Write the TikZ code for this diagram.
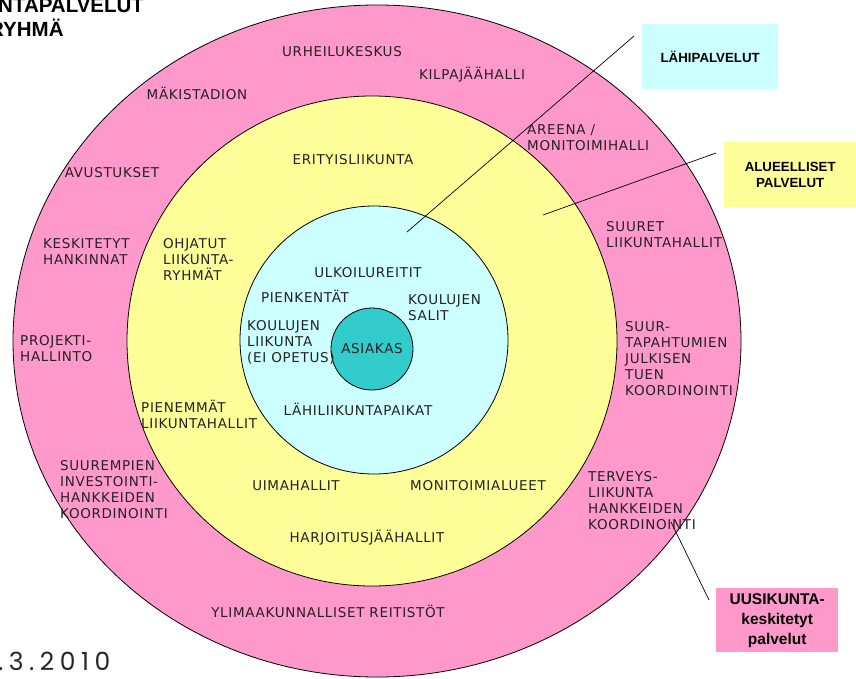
\documentclass[tikz,border=0pt]{standalone}
\usepackage{fontspec}
\setmainfont{DejaVu Sans}
\newfontfamily\labfont[LetterSpace=5]{DejaVu Sans}
\newfontfamily\boxfont{Liberation Sans}
\newfontfamily\datefont[LetterSpace=22]{Poppins}
\usetikzlibrary{calc}
\definecolor{pinkc}{HTML}{FF99CC}
\definecolor{yelc}{HTML}{FFFF99}
\definecolor{cyanc}{HTML}{CCFFFF}
\definecolor{asic}{HTML}{33CCCC}
\definecolor{labc}{HTML}{222222}
\begin{document}
\begin{tikzpicture}[x=1pt,y=-1pt,
  lab/.style={inner sep=0pt, font=\labfont\fontsize{13.5}{16}\selectfont, text=labc},
  labl/.style={lab, align=left, anchor=west},
  ring/.style={draw=black, line width=0.8pt},
  infobox/.style={inner sep=0pt, align=center, anchor=north west},
  pointer/.style={draw=black, line width=0.7pt}]
\useasboundingbox (0,0) rectangle (856,679);
% rings
\path[ring, fill=pinkc] (377,341) ellipse [x radius=364pt, y radius=336pt];
\path[ring, fill=yelc] (372,341) circle [radius=245pt];
\path[ring, fill=cyanc] (374,340) circle [radius=134pt];
\node[ring, fill=asic, circle, minimum size=82pt, inner sep=0pt, font=\labfont\fontsize{13.5}{16}\selectfont, text=labc] (asiakas) at (372,349) {ASIAKAS};
% title and date
\node[inner sep=0pt, anchor=north west, font=\boxfont\bfseries\fontsize{20.5}{24}\selectfont, align=left] (title) at (-2,-2) {NTAPALVELUT\\\hspace*{-9pt}RYHMÄ};
\node[inner sep=0pt, anchor=base west, font=\datefont\fontsize{25}{28}\selectfont, text=black!85] (date) at (-2,670) {.3.2010};
% pink ring labels
\node[lab] (l1) at (342,52) {URHEILUKESKUS};
\node[lab] (l2) at (472,75) {KILPAJÄÄHALLI};
\node[lab] (l3) at (197,93) {MÄKISTADION};
\node[labl] (l4) at (527,138) {AREENA /\\MONITOIMIHALLI};
\node[lab] (l5) at (112,173) {AVUSTUKSET};
\node[labl] (l6) at (43,251) {KESKITETYT\\HANKINNAT};
\node[labl] (l7) at (20,349) {PROJEKTI-\\HALLINTO};
\node[labl] (l8) at (60,490) {SUUREMPIEN\\INVESTOINTI-\\HANKKEIDEN\\KOORDINOINTI};
\node[lab] (l9) at (328,611) {YLIMAAKUNNALLISET REITISTÖT};
\node[labl] (l10) at (588,501) {TERVEYS-\\LIIKUNTA\\HANKKEIDEN\\KOORDINOINTI};
\node[labl] (l11) at (625,359) {SUUR-\\TAPAHTUMIEN\\JULKISEN\\TUEN\\KOORDINOINTI};
\node[labl] (l12) at (606,235) {SUURET\\LIIKUNTAHALLIT};
% yellow ring labels
\node[lab] (y1) at (353,160) {ERITYISLIIKUNTA};
\node[labl] (y2) at (163,259) {OHJATUT\\LIIKUNTA-\\RYHMÄT};
\node[labl] (y3) at (141,414) {PIENEMMÄT\\LIIKUNTAHALLIT};
\node[lab] (y4) at (296,486) {UIMAHALLIT};
\node[lab] (y5) at (478,486) {MONITOIMIALUEET};
\node[lab] (y6) at (367,538) {HARJOITUSJÄÄHALLIT};
% cyan labels
\node[lab] (c1) at (368,273) {ULKOILUREITIT};
\node[lab] (c2) at (305,296) {PIENKENTÄT};
\node[labl] (c3) at (408,308) {KOULUJEN\\SALIT};
\node[labl] (c4) at (247,342) {KOULUJEN\\LIIKUNTA\\(EI OPETUS)};
\node[lab] (c5) at (358,409) {LÄHILIIKUNTAPAIKAT};
% info boxes
\node[infobox, fill=cyanc, minimum width=136pt, minimum height=65pt, font=\boxfont\bfseries\fontsize{13.3}{16}\selectfont] (lahi) at (642,24) {LÄHIPALVELUT};
\node[infobox, fill=yelc, minimum width=132pt, minimum height=65pt, font=\boxfont\bfseries\fontsize{13.3}{16}\selectfont] (alue) at (724,142) {ALUEELLISET\\PALVELUT};
\node[infobox, fill=pinkc, minimum width=122pt, minimum height=64pt, font=\boxfont\bfseries\fontsize{15.5}{20}\selectfont] (uusi) at (716,588) {UUSIKUNTA-\\keskitetyt\\palvelut};
% pointers
\coordinate (p1a) at (407,232);
\coordinate (p1b) at ($(lahi.north west)+(-8,12)$);
\coordinate (p2a) at (543,215);
\coordinate (p2b) at ($(alue.north west)+(-8,11)$);
\coordinate (p3a) at (671,522);
\coordinate (p3b) at ($(uusi.north west)+(-7,12)$);
\draw[pointer] (p1a) -- (p1b);
\draw[pointer] (p2a) -- (p2b);
\draw[pointer] (p3a) -- (p3b);
\end{tikzpicture}
\end{document}
